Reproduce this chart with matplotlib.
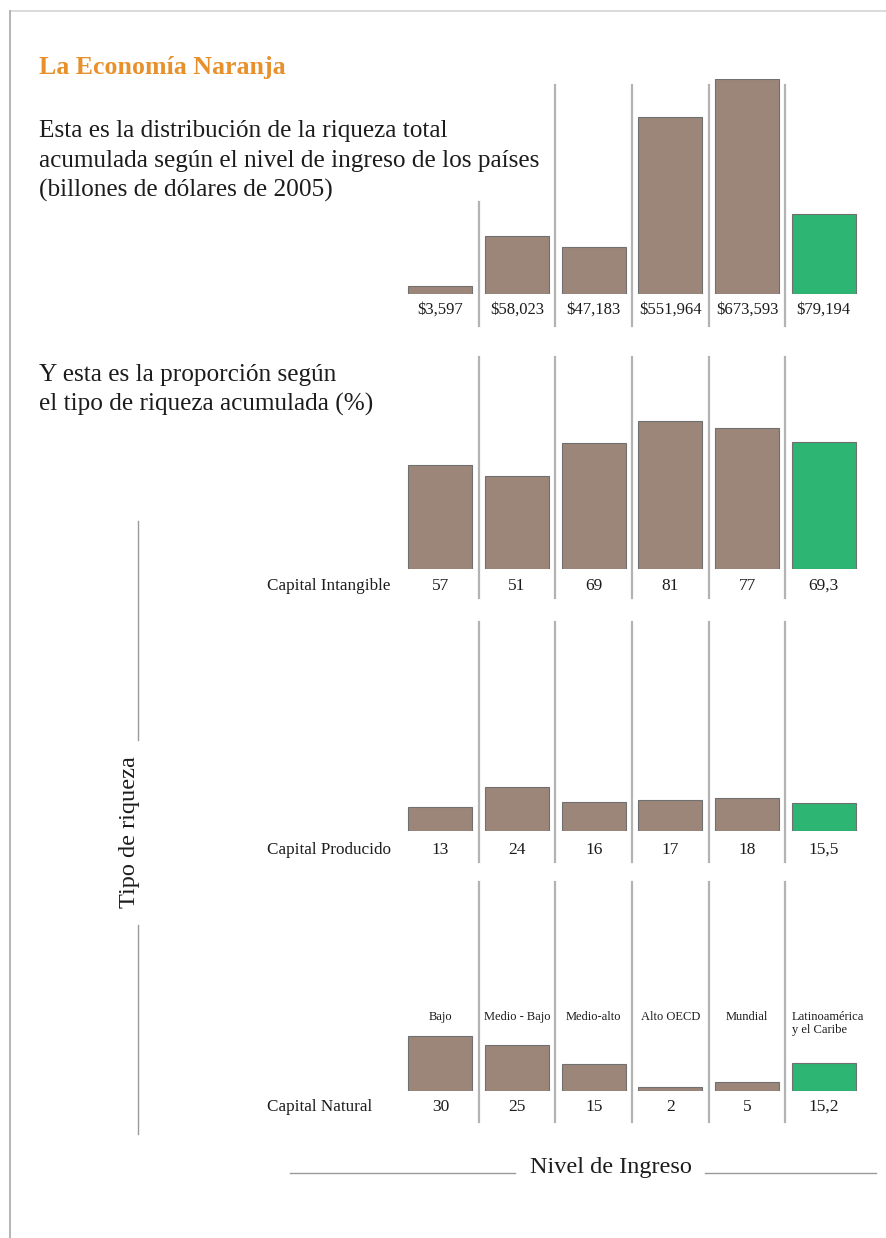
import matplotlib.pyplot as plt
from matplotlib import transforms

# datos
niveles = ["Bajo", "Medio - Bajo", "Medio-alto", "Alto OECD", "Mundial", "Latinoamérica\ny el Caribe"]
riqueza_total = [3597, 58023, 47183, 551964, 673593, 79194]
# altura de cada barra tal como se dibuja en la imagen (% de la barra mayor)
riqueza_altura = [3.7, 27.0, 21.9, 82.3, 100.0, 37.2]
capital_intangible = [57, 51, 69, 81, 77, 69.3]
capital_producido = [13, 24, 16, 17, 18, 15.5]
capital_natural = [30, 25, 15, 2, 5, 15.2]
tipos = ["Capital Intangible", "Capital Producido", "Capital Natural"]

W, H = 886, 1238
BROWN = "#9b8679"
GREEN = "#2db573"
EDGE = "#707070"
SEP = "#b3b3b3"
TXT = "#1c1c1c"
plt.rcParams["font.family"] = ["Liberation Serif", "DejaVu Serif"]

fig = plt.figure(figsize=(W / 100, H / 100), dpi=100)
bg = fig.add_axes([0, 0, 1, 1])
bg.set_xlim(0, W)
bg.set_ylim(H, 0)
bg.axis("off")


def px_axes(left, top, right, bottom):
    ax = fig.add_axes([left / W, 1 - bottom / H, (right - left) / W, (bottom - top) / H])
    ax.axis("off")
    ax.set_xlim(-0.5, len(niveles) - 0.5)
    ax.set_ylim(0, 100)
    return ax


def draw_bars(ax, heights):
    colors = [BROWN] * (len(heights) - 1) + [GREEN]
    ax.bar(range(len(heights)), heights, width=0.835, color=colors,
           edgecolor=EDGE, linewidth=0.8)
    # x in data units, y in page pixels
    return transforms.blended_transform_factory(ax.transData, bg.transData)


def fmt(v):
    return str(v).replace(".", ",")


# border
bg.plot([10, W], [11, 11], color="#d4d4d4", lw=1.2)
bg.plot([10, 10], [11, H], color="#a8a8a8", lw=1.2)

# headings
bg.text(39, 74, "La Economía Naranja", color="#e8912c", fontsize=18.6,
        fontweight="bold", va="baseline")
for i, line in enumerate(["Esta es la distribución de la riqueza total",
                          "acumulada según el nivel de ingreso de los países",
                          "(billones de dólares de 2005)"]):
    bg.text(39, 137 + i * 30, line, color=TXT, fontsize=18.2, va="baseline")
for i, line in enumerate(["Y esta es la proporción según",
                          "el tipo de riqueza acumulada (%)"]):
    bg.text(39, 381 + i * 30, line, color=TXT, fontsize=18.2, va="baseline")

# panel 1: riqueza total
ax = px_axes(402, 79, 862, 294)
tr = draw_bars(ax, riqueza_altura)
for i in range(len(niveles) - 1):
    top = 202 if i == 0 else 85
    ax.plot([i + 0.5, i + 0.5], [top, 326], transform=tr, color=SEP, lw=1.6, clip_on=False)
for i, v in enumerate(riqueza_total):
    ax.text(i, 310, f"${v:,}", transform=tr, ha="center", va="center",
            fontsize=12, color=TXT)

# panels 2-4: proporción por tipo de riqueza
paneles = [(capital_intangible, 569, 357, 598, 586),
           (capital_producido, 831, 622, 862, 850),
           (capital_natural, 1091, 882, 1122, 1107)]
for tipo, (vals, base, s_top, s_bot, lab_y) in zip(tipos, paneles):
    ax = px_axes(402, base - 183, 862, base)
    tr = draw_bars(ax, vals)
    for i in range(len(niveles) - 1):
        ax.plot([i + 0.5, i + 0.5], [s_top, s_bot], transform=tr, color=SEP,
                lw=1.6, clip_on=False)
    for i, v in enumerate(vals):
        ax.text(i, lab_y, fmt(v), transform=tr, ha="center", va="center",
                fontsize=12.5, color=TXT)
    bg.text(267, lab_y, tipo, ha="left", va="center", fontsize=12.3, color=TXT)

# category names above the natural capital bars
for i, name in enumerate(niveles):
    if "\n" in name:
        ax.text(i - 0.835 / 2, 1011, name, transform=tr, ha="left", va="top",
                fontsize=9, color=TXT, linespacing=1.15)
    else:
        ax.text(i, 1011, name, transform=tr, ha="center", va="top",
                fontsize=9, color=TXT)

# axis captions
bg.text(130, 832, "Tipo de riqueza", rotation=90, ha="center", va="center",
        fontsize=17.5, color=TXT)
bg.plot([138, 138], [521, 740], color="#9a9a9a", lw=1)
bg.plot([138, 138], [925, 1134], color="#9a9a9a", lw=1)
bg.text(611, 1167, "Nivel de Ingreso", ha="center", va="center",
        fontsize=17.5, color=TXT)
bg.plot([290, 515], [1173, 1173], color="#9a9a9a", lw=1)
bg.plot([705, 876], [1173, 1173], color="#9a9a9a", lw=1)

fig.savefig("out.png", dpi=100)
